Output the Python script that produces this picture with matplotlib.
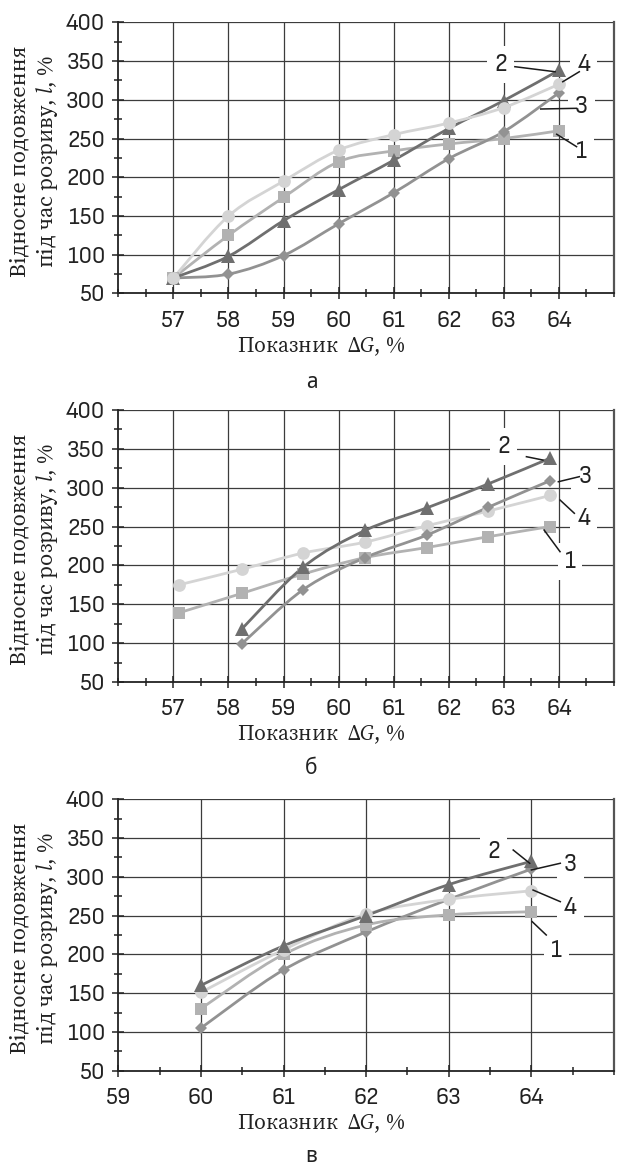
import matplotlib
matplotlib.use("Agg")
import matplotlib.pyplot as plt
from matplotlib.path import Path
from matplotlib.patches import PathPatch
from matplotlib.ticker import MultipleLocator, FixedLocator
import numpy as np

plt.rcParams['mathtext.fontset'] = 'custom'
plt.rcParams['mathtext.it'] = 'Source Serif 4:italic'
plt.rcParams['mathtext.rm'] = 'Source Serif 4'

TICK_FONT = ['Sofia Sans Semi Condensed', 'DejaVu Sans']
LABEL_FONT = ['Source Serif 4', 'DejaVu Serif']
LETTER_FONT = ['Noto Sans', 'DejaVu Sans']

# ---------------- data ----------------
# panel a
a_x = [57, 58, 59, 60, 61, 62, 63, 64]
a_s1 = [70, 125, 174, 220, 234, 243, 250, 260]
a_s2 = [70, 98, 144, 184, 222, 263, 299, 338]
a_s3 = [70, 75, 99, 140, 180, 224, 259, 309]
a_s4 = [70, 150, 195, 235, 255, 270, 290, 320]
# panel б
b_x = [57.1, 58.24, 59.36, 60.48, 61.6, 62.72, 63.84]
b_s1 = [139, 164, 189, 210, 223, 237, 250]
b_x2 = [58.24, 59.36, 60.48, 61.6, 62.72, 63.84]
b_s2 = [118, 198, 245, 274, 305, 338]
b_s3 = [99, 169, 210, 239, 275, 309]
b_s4 = [175, 195, 216, 230, 251, 270, 290]
# panel в
c_x = [60, 61, 62, 63, 64]
c_s1 = [130, 200, 238, 251, 255]
c_s2 = [160, 211, 250, 290, 320]
c_s3 = [105, 180, 229, 271, 310]
c_s4 = [151, 206, 252, 271, 282]

y_ticks = [50, 100, 150, 200, 250, 300, 350, 400]
ylabel1 = 'Відносне подовження'
ylabel2 = 'під час розриву, $\\mathit{l}$, %'
xlabel = 'Показник  Δ$\\mathit{G}$, %'
panel_letters = ['а', 'б', 'в']
series_labels = ['1', '2', '3', '4']

colors = {'1': '#b2b2b2', '2': '#6f6f6f', '3': '#929292', '4': '#d4d4d4'}
markers = {'1': ('s', 8.6), '2': ('^', 9.6), '3': ('D', 6.6), '4': ('o', 9.2)}


def smooth_path(xs, ys):
    pts = np.column_stack([xs, ys]).astype(float)
    n = len(pts)
    verts = [pts[0]]
    codes = [Path.MOVETO]
    for i in range(n - 1):
        p0 = pts[i - 1] if i > 0 else pts[i]
        p1 = pts[i]
        p2 = pts[i + 1]
        p3 = pts[i + 2] if i + 2 < n else pts[i + 1]
        c1 = p1 + (p2 - p0) / 6.0
        c2 = p2 - (p3 - p1) / 6.0
        verts += [c1, c2, p2]
        codes += [Path.CURVE4] * 3
    return Path(verts, codes)


def draw_series(ax, xs, ys, key, z):
    col = colors[key]
    ax.add_patch(PathPatch(smooth_path(xs, ys), facecolor='none', edgecolor=col,
                           lw=2.0, zorder=z, capstyle='round', joinstyle='round'))
    m, ms = markers[key]
    ax.plot(xs, ys, linestyle='none', marker=m, markersize=ms, color=col,
            markeredgewidth=0, zorder=z + 0.1)


fig = plt.figure(figsize=(6.17, 11.66), dpi=100)
W, H = 617.0, 1166.0

panels = [
    dict(top=22.3, bot=293.5, xmin=56, xticks=[57, 58, 59, 60, 61, 62, 63, 64], cx=321, xl_y=346.5, lt_y=382,
         series=[(a_x, a_s1, '1'), (a_x, a_s3, '3'), (a_x, a_s2, '2'), (a_x, a_s4, '4')],
         labels=[('2', 62.94, 344.9, (63.20, 342.7), (63.93, 336.2)),
                 ('4', 64.45, 344.9, (64.37, 336.2), (64.07, 323.3)),
                 ('3', 64.41, 291.1, (64.32, 289.0), (63.67, 288.1)),
                 ('1', 64.41, 233.0, (64.32, 239.5), (63.96, 255.5))]),
    dict(top=410.0, bot=682.0, xmin=56, xticks=[57, 58, 59, 60, 61, 62, 63, 64], cx=321, xl_y=734.5, lt_y=768,
         series=[(b_x, b_s1, '1'), (b_x, b_s4, '4'), (b_x2, b_s3, '3'), (b_x2, b_s2, '2')],
         labels=[('2', 63.00, 352.8, (63.41, 339.9), (63.71, 335.6)),
                 ('3', 64.47, 314.2, (64.37, 314.2), (63.99, 307.7)),
                 ('4', 64.45, 260.6, (64.28, 267.1), (64.02, 284.2)),
                 ('1', 64.20, 204.8, (64.02, 217.7), (63.73, 245.6))]),
    dict(top=799.3, bot=1070.7, xmin=59, xticks=[59, 60, 61, 62, 63, 64], cx=321, xl_y=1123.5, lt_y=1156.5,
         series=[(c_x, c_s3, '3'), (c_x, c_s1, '1'), (c_x, c_s4, '4'), (c_x, c_s2, '2')],
         labels=[('2', 63.54, 332.4, (63.78, 334.6), (63.98, 317.5)),
                 ('3', 64.47, 315.3, (64.35, 317.5), (64.00, 308.9)),
                 ('4', 64.47, 260.7, (64.35, 268.0), (64.02, 283.0)),
                 ('1', 64.30, 205.6, (64.18, 225.0), (64.01, 242.2))]),
]

left_px, right_px = 118.3, 614.0

for idx, p in enumerate(panels):
    ax = fig.add_axes([left_px / W, 1 - p['bot'] / H, (right_px - left_px) / W, (p['bot'] - p['top']) / H])
    ax.set_xlim(p['xmin'], 65)
    ax.set_ylim(50, 400)
    ax.set_axisbelow(True)
    ax.xaxis.set_major_locator(FixedLocator(p['xticks']))
    ax.xaxis.set_minor_locator(MultipleLocator(0.5))
    ax.yaxis.set_major_locator(FixedLocator(y_ticks))
    ax.yaxis.set_minor_locator(MultipleLocator(25))
    ax.set_xticklabels([str(t) for t in p['xticks']], fontfamily=TICK_FONT, fontsize=17.5, color='#222222')
    ax.set_yticklabels([str(t) for t in y_ticks], fontfamily=TICK_FONT, fontsize=17.5, color='#222222')
    ax.tick_params(axis='both', which='major', direction='inout', length=9, width=1.1, color='#222222')
    ax.tick_params(axis='both', which='minor', direction='inout', length=6, width=1.1, color='#222222')
    ax.tick_params(axis='x', which='major', pad=8)
    ax.tick_params(axis='y', which='major', pad=5)
    # grid
    for gx in p['xticks']:
        if gx > p['xmin']:
            ax.axvline(gx, color='#3c3c3c', lw=0.9, zorder=0.5)
    for gy in y_ticks[1:]:
        ax.axhline(gy, color='#3c3c3c', lw=0.9, zorder=0.5)
    ax.spines['top'].set_visible(False)
    ax.spines['right'].set_color('#555555')
    ax.spines['right'].set_linewidth(1.6)
    ax.spines['left'].set_linewidth(1.3)
    ax.spines['bottom'].set_linewidth(1.3)
    ax.spines['left'].set_color('#222222')
    ax.spines['bottom'].set_color('#222222')

    for xs, ys, key in p['series']:
        draw_series(ax, xs, ys, key, 2)

    for lab, tx, ty, (x0, y0), (x1, y1) in p['labels']:
        ax.text(tx, ty, lab, ha='center', va='center', fontsize=18, fontfamily=TICK_FONT, color='#222222',
                zorder=1, bbox=dict(facecolor='white', edgecolor='none', pad=5))
        ax.plot([x0, x1], [y0, y1], color='#1a1a1a', lw=1.1, zorder=3)

    # axis labels
    cy = (p['top'] + p['bot']) / 2 + 3
    fig.text(20 / W, 1 - cy / H, ylabel1, rotation=90, ha='center', va='center', fontsize=16,
             fontfamily=LABEL_FONT, color='#222222')
    fig.text(47 / W, 1 - cy / H, ylabel2, rotation=90, ha='center', va='center', fontsize=16,
             fontfamily=LABEL_FONT, color='#222222')
    fig.text(p['cx'] / W, 1 - p['xl_y'] / H, xlabel, ha='center', va='center', fontsize=15.5,
             fontfamily=LABEL_FONT, color='#222222')
    fig.text(311.5 / W, 1 - p['lt_y'] / H, panel_letters[idx], ha='center', va='center', fontsize=15,
             fontfamily=LETTER_FONT, color='#222222')

fig.savefig('out.png', dpi=100)
